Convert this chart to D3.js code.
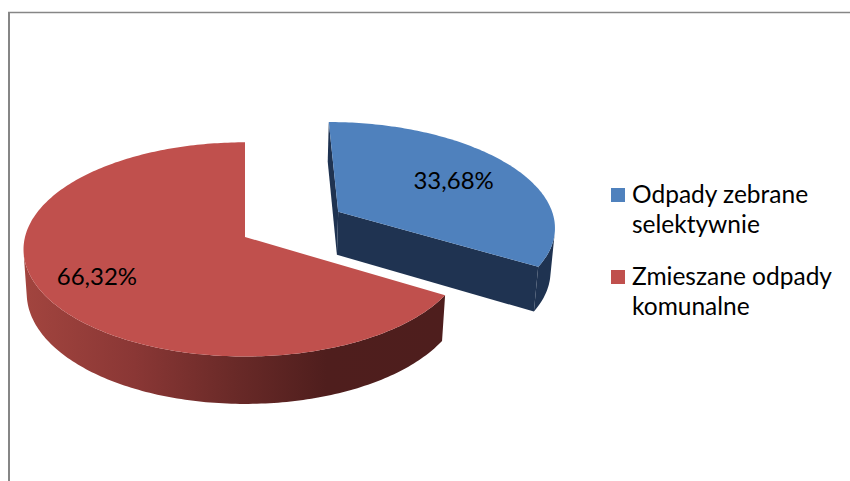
<!DOCTYPE html>
<html>
<head>
<meta charset="utf-8">
<script src="https://cdn.jsdelivr.net/npm/d3@7"></script>
<style>
  html, body { margin: 0; padding: 0; background: #fff; }
  svg { display: block; }
</style>
</head>
<body>
<div id="chart"></div>
<script>
// ----------------------------------------------------------
// Data
// ----------------------------------------------------------
const categories = ["Odpady zebrane selektywnie", "Zmieszane odpady komunalne"];
const values = [33.68, 66.32];
const valueLabels = ["33,68%", "66,32%"];
const legendLines = [["Odpady zebrane", "selektywnie"], ["Zmieszane odpady", "komunalne"]];

// ----------------------------------------------------------
// Styles / layout
// ----------------------------------------------------------
const topColors  = ["#4F81BD", "#C0504D"];
const sideColors = ["#1F3351", "url(#redSide)"];
const explode    = [0.5, 0];           // fraction of radius
const labelRadius = [0.66, 0.74];
const FONT = "Lato, 'Open Sans', sans-serif";

const width = 850, height = 481;

// simple perspective camera for the 3D pie
const view = {
  cx: 245, cy: 237,      // screen position of pie pivot
  scale: 220,            // px per radius
  persp: 0.132,          // radius / camera distance
  tilt: 28.7 * Math.PI / 180,
  depth: 0.23            // thickness in radius units
};
const cosT = Math.cos(view.tilt), sinT = Math.sin(view.tilt);
const camera = [0, sinT / view.persp, cosT / view.persp];

function project(p) {
  const [x, y, z] = p;
  const d = 1 - view.persp * (z * cosT + y * sinT);
  return [view.cx + view.scale * x / d, view.cy + view.scale * (z * sinT - y * cosT) / d];
}

function facing(normal, point) {
  const v = [camera[0] - point[0], camera[1] - point[1], camera[2] - point[2]];
  return normal[0] * v[0] + normal[1] * v[1] + normal[2] * v[2] > 1e-6;
}

const svg = d3.select("#chart")
  .append("svg")
  .attr("width", width)
  .attr("height", height);

// gradient for the red rim
const grad = svg.append("defs").append("linearGradient")
  .attr("id", "redSide")
  .attr("gradientUnits", "userSpaceOnUse")
  .attr("x1", 20).attr("x2", 445).attr("y1", 0).attr("y2", 0);
[[0, "#A3453F"], [0.27, "#8A3735"], [0.5, "#6A2A28"], [0.72, "#4F1E1D"], [1, "#4E1E1D"]]
  .forEach(([o, c]) => grad.append("stop").attr("offset", o).attr("stop-color", c));

// chart frame
svg.append("line")
  .attr("x1", 8).attr("x2", width).attr("y1", 12.5).attr("y2", 12.5)
  .attr("stroke", "#868686").attr("stroke-width", 1.5);
svg.append("line")
  .attr("x1", 9).attr("x2", 9).attr("y1", 12).attr("y2", height)
  .attr("stroke", "#868686").attr("stroke-width", 2);

// ----------------------------------------------------------
// 3D pie
// ----------------------------------------------------------
const arcs = d3.pie().sort(null).value(d => d)(values);
const line = d3.line();
const step = Math.PI / 180;

function angles(a0, a1) {
  const n = Math.max(2, Math.ceil((a1 - a0) / step));
  return d3.range(n + 1).map(i => a0 + (a1 - a0) * i / n);
}

const pieG = svg.append("g");

// back slice (exploded blue) first, then the red one in front
[0, 1].forEach(i => {
  const a = arcs[i];
  const mid = (a.startAngle + a.endAngle) / 2;
  const ox = explode[i] * Math.sin(mid), oz = -explode[i] * Math.cos(mid);
  const rim = (t, y) => [ox + Math.sin(t), y, oz - Math.cos(t)];
  const pivot = y => [ox, y, oz];
  const h = -view.depth;
  const g = pieG.append("g");

  // radial faces
  const faces = [
    { t: a.startAngle, n: [-Math.cos(a.startAngle), 0, -Math.sin(a.startAngle)] },
    { t: a.endAngle,   n: [ Math.cos(a.endAngle),   0,  Math.sin(a.endAngle)] }
  ];
  faces.forEach(f => {
    if (!facing(f.n, pivot(0))) return;
    const pts = [pivot(0), rim(f.t, 0), rim(f.t, h), pivot(h)].map(project);
    g.append("path")
      .attr("d", line(pts) + "Z")
      .attr("fill", sideColors[i]);
  });

  // outer rim (visible part only)
  const vis = angles(a.startAngle, a.endAngle)
    .filter(t => facing([Math.sin(t), 0, -Math.cos(t)], rim(t, 0)));
  if (vis.length > 1) {
    const pts = vis.map(t => project(rim(t, 0)))
      .concat(vis.slice().reverse().map(t => project(rim(t, h))));
    g.append("path")
      .attr("d", line(pts) + "Z")
      .attr("fill", sideColors[i]);
  }

  // top face
  const topPts = [project(pivot(0))]
    .concat(angles(a.startAngle, a.endAngle).map(t => project(rim(t, 0))));
  g.append("path")
    .attr("d", line(topPts) + "Z")
    .attr("fill", topColors[i]);

  // value label
  const r = labelRadius[i];
  const [lx, ly] = project([ox + r * Math.sin(mid), 0, oz - r * Math.cos(mid)]);
  g.append("text")
    .attr("x", lx)
    .attr("y", ly)
    .attr("dy", "0.35em")
    .attr("text-anchor", "middle")
    .attr("font-family", FONT)
    .attr("font-size", 24)
    .attr("fill", "#000")
    .text(valueLabels[i]);
});

// ----------------------------------------------------------
// Legend
// ----------------------------------------------------------
const legend = svg.append("g").attr("transform", "translate(611,0)");
const legendTop = [203, 285];

categories.forEach((c, i) => {
  const y0 = legendTop[i];
  legend.append("rect")
    .attr("x", 0).attr("y", y0 - 15)
    .attr("width", 14).attr("height", 14)
    .attr("fill", topColors[i]);
  legend.append("text")
    .attr("x", 21)
    .attr("y", y0)
    .attr("font-family", FONT)
    .attr("font-size", 24.5)
    .attr("fill", "#000")
    .selectAll("tspan")
    .data(legendLines[i])
    .join("tspan")
    .attr("x", 21)
    .attr("dy", (d, j) => j ? 30 : 0)
    .text(d => d);
});
</script>
</body>
</html>
